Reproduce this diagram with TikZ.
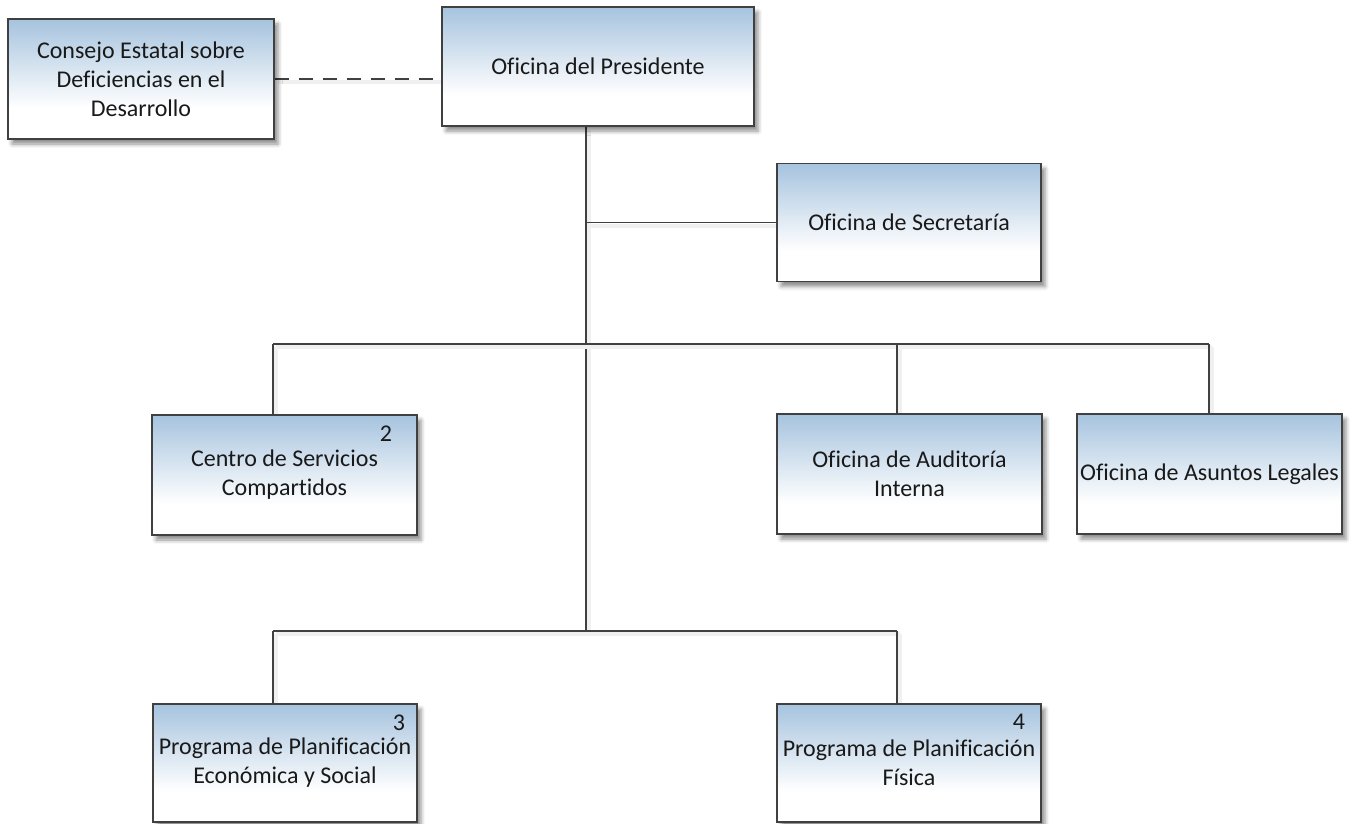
\documentclass[tikz,border=0pt]{standalone}
\usepackage{fontspec}
\setmainfont{Carlito}[Ligatures=NoCommon]
\usetikzlibrary{shadows.blur,backgrounds}

\definecolor{boxblue}{HTML}{A6C3DE}
\definecolor{boxline}{HTML}{404040}
\pgfdeclareverticalshading{boxfade}{100bp}{color(0bp)=(white); color(25bp)=(white); color(38bp)=(white); color(75bp)=(boxblue); color(100bp)=(boxblue)}

\tikzset{
  unit/.style={draw=boxline, line width=1.5pt, shading=boxfade, inner sep=0pt,
    minimum width=264pt, minimum height=118pt, align=center,
    font=\fontsize{24}{29}\selectfont, text=black!90,
    blur shadow={shadow xshift=4pt, shadow yshift=-5pt, shadow blur radius=4pt, shadow opacity=45}},
  num/.style={font=\fontsize{24}{29}\selectfont, text=black!90, inner sep=0pt},
  conn/.style={draw=boxline, line width=1.5pt,
    preaction={draw=black!6, line width=4pt, transform canvas={xshift=3pt,yshift=-3pt}}},
}

\begin{document}
\begin{tikzpicture}[x=1pt, y=-1pt]
    \useasboundingbox (0,0) rectangle (1355,824);

    % boxes
    \node[unit, minimum width=266pt, minimum height=120pt] (consejo) at (141,79) {Consejo Estatal sobre\\Deficiencias en el\\Desarrollo};
    \node[unit, minimum width=312pt, minimum height=119pt] (presidente) at (598,66.5) {Oficina del Presidente};
    \node[unit] (secretaria) at (909,222.5) {Oficina de Secretaría};
    \node[unit, minimum width=265pt, minimum height=120pt] (centro) at (284.5,475) {Centro de Servicios\\Compartidos};
    \node[unit, minimum width=265pt, minimum height=120pt] (auditoria) at (909.5,474) {Oficina de Auditoría\\Interna};
    \node[unit, minimum width=265pt, minimum height=120pt] (legales) at (1209.5,474) {Oficina de Asuntos Legales};
    \node[unit] (planes) at (285,763) {Programa de Planificación\\Económica y Social};
    \node[unit] (fisica) at (909,763) {Programa de Planificación\\Física};

    % numbers
    \node[num] (n2) at (386,434) {2};
    \node[num] (n3) at (399,723) {3};
    \node[num] (n4) at (1019,722) {4};

    % lines
    \coordinate (bus1) at (586,344);
    \coordinate (bus2) at (586,631);
    \coordinate (dropa) at (273,344);
    \coordinate (dropb) at (897,344);
    \coordinate (dropc) at (1209,344);
    \coordinate (dropd) at (273,631);
    \coordinate (drope) at (897,631);
    \coordinate (tee) at (586,222.5);

    \begin{scope}[on background layer]
        \draw[conn, dash pattern=on 14pt off 10pt] (consejo.east) -- (consejo.east -| presidente.west);
        \draw[conn] (bus1 |- presidente.south) -- (bus2);
        \draw[conn] (tee) -- (secretaria.west);
        \draw[conn] (dropa) -- (dropc);
        \draw[conn] (dropa) -- (dropa |- centro.north);
        \draw[conn] (dropb) -- (dropb |- auditoria.north);
        \draw[conn] (dropc) -- (dropc |- legales.north);
        \draw[conn] (dropd) -- (drope);
        \draw[conn] (dropd) -- (dropd |- planes.north);
        \draw[conn] (drope) -- (drope |- fisica.north);
    \end{scope}
\end{tikzpicture}
\end{document}
